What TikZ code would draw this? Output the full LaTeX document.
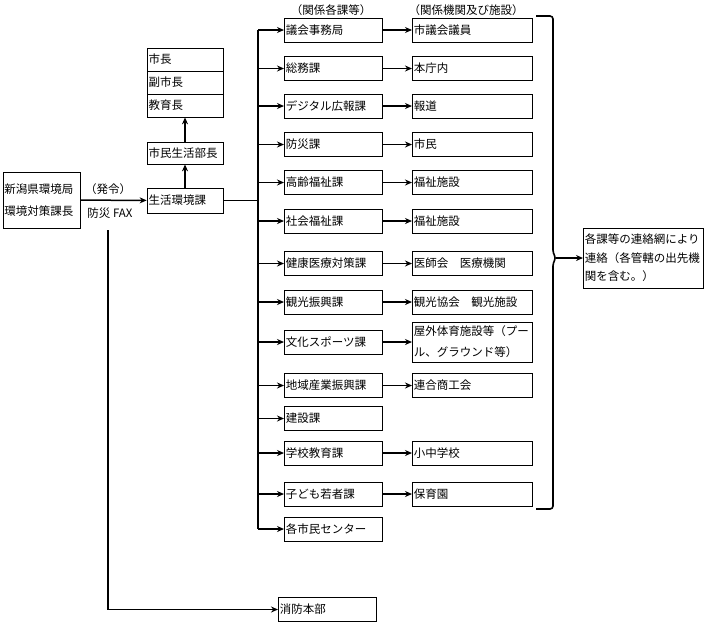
\documentclass[tikz,border=0pt]{standalone}
\usepackage{fontspec}
\setmainfont{Noto Sans CJK JP}
\usetikzlibrary{arrows.meta, positioning, calc}

\begin{document}
\begin{tikzpicture}[
    x=1pt, y=1pt,
    font=\fontsize{11.5}{14}\selectfont,
    box/.style={draw, line width=0.7pt, inner xsep=1.5pt, inner ysep=0pt,
        align=left, minimum height=24pt},
    office/.style={box, text width=73pt},
    unit/.style={box, anchor=west, text width=95pt},
    facility/.style={box, anchor=west, text width=117pt},
    arr/.style={-{Stealth[length=7pt, width=6pt]}, line width=1.5pt},
    bus/.style={line width=1.2pt},
]
\useasboundingbox (0,0) rectangle (706,-625);

% 発令元
\node[box, text width=74pt, minimum height=56pt] (pref) at (41.5,-200) {新潟県環境局\\[8pt]環境対策課長};
\node (order) at (108,-189) {（発令）};
\node (fax) at (110,-213) {防災 FAX};
\node[office, minimum height=25pt] (env) at (185,-200.5) {生活環境課};
\draw[arr] (pref) -- (env);

% 上位への報告
\node[office, minimum height=22pt] (chief) at (185,-153) {市民生活部長};
\foreach \lbl [count=\i] in {市長, 副市長, 教育長}
    \node[office, minimum height=23pt] (top\i) at (185,{-36.5-23*\i}) {\lbl};
\draw[arr] (env) -- (chief);
\draw[arr] (chief) -- (top3);

% 関係各課等
\node (hdrSec) at (331,-10) {（関係各課等）};
\node (hdrFac) at (466,-10) {（関係機関及び施設）};
\coordinate (busX) at (258,0);
\coordinate (facX) at (412,0);

\foreach \y/\lbl [count=\i] in {%
    30/議会事務局, 68.5/総務課, 106/デジタル広報課, 144.5/防災課,
    182.5/高齢福祉課, 221/社会福祉課, 263.5/健康医療対策課, 302/観光振興課,
    342/文化スポーツ課, 385.5/地域産業振興課, 418.5/建設課, 453/学校教育課,
    494/子ども若者課, 529/各市民センター%
}{
    \node[unit] (sec\i) at (284,-\y) {\lbl};
    \draw[arr] (sec\i.west -| busX) -- (sec\i.west);
}
\draw[bus] (sec1.west -| busX) -- (sec14.west -| busX);
\draw[line width=0.7pt] (env.east) -- (env.east -| busX);

% 関係機関及び施設
\foreach \i/\lbl in {1/市議会議員, 2/本庁内, 3/報道, 4/市民, 5/福祉施設, 6/福祉施設,
    7/医師会　医療機関, 8/観光協会　観光施設, 10/連合商工会, 12/小中学校, 13/保育園}{
    \node[facility] (fac\i) at (sec\i.west -| facX) {\lbl};
    \draw[arr] (sec\i.east) -- (fac\i.west);
}
\node[facility, minimum height=40pt] (fac9) at (sec9.west -| facX) {屋外体育施設等（プー\\[7pt]ル、グラウンド等）};
\draw[arr] (sec9.east) -- (fac9.west);

% 連絡網
\draw[line width=1.6pt, rounded corners=3pt] (536,-16) -- (553,-16) -- (553,-253)
    -- (556,-258) -- (553,-263) -- (553,-509) -- (536,-509);
\coordinate (braceTip) at (556,-258);
\node[box, anchor=west, text width=117pt, minimum height=60pt] (relay) at (583,-258)
    {各課等の連絡網により\\[4.5pt]連絡（各管轄の出先機\\[4.5pt]関を含む。）};
\draw[arr] (braceTip) -- (relay.west);

% 消防本部
\node[unit] (fire) at (278,-609.5) {消防本部};
\coordinate (faxDrop) at (108,-230);
\draw[arr] (faxDrop) |- (fire.west);

\end{tikzpicture}
\end{document}
